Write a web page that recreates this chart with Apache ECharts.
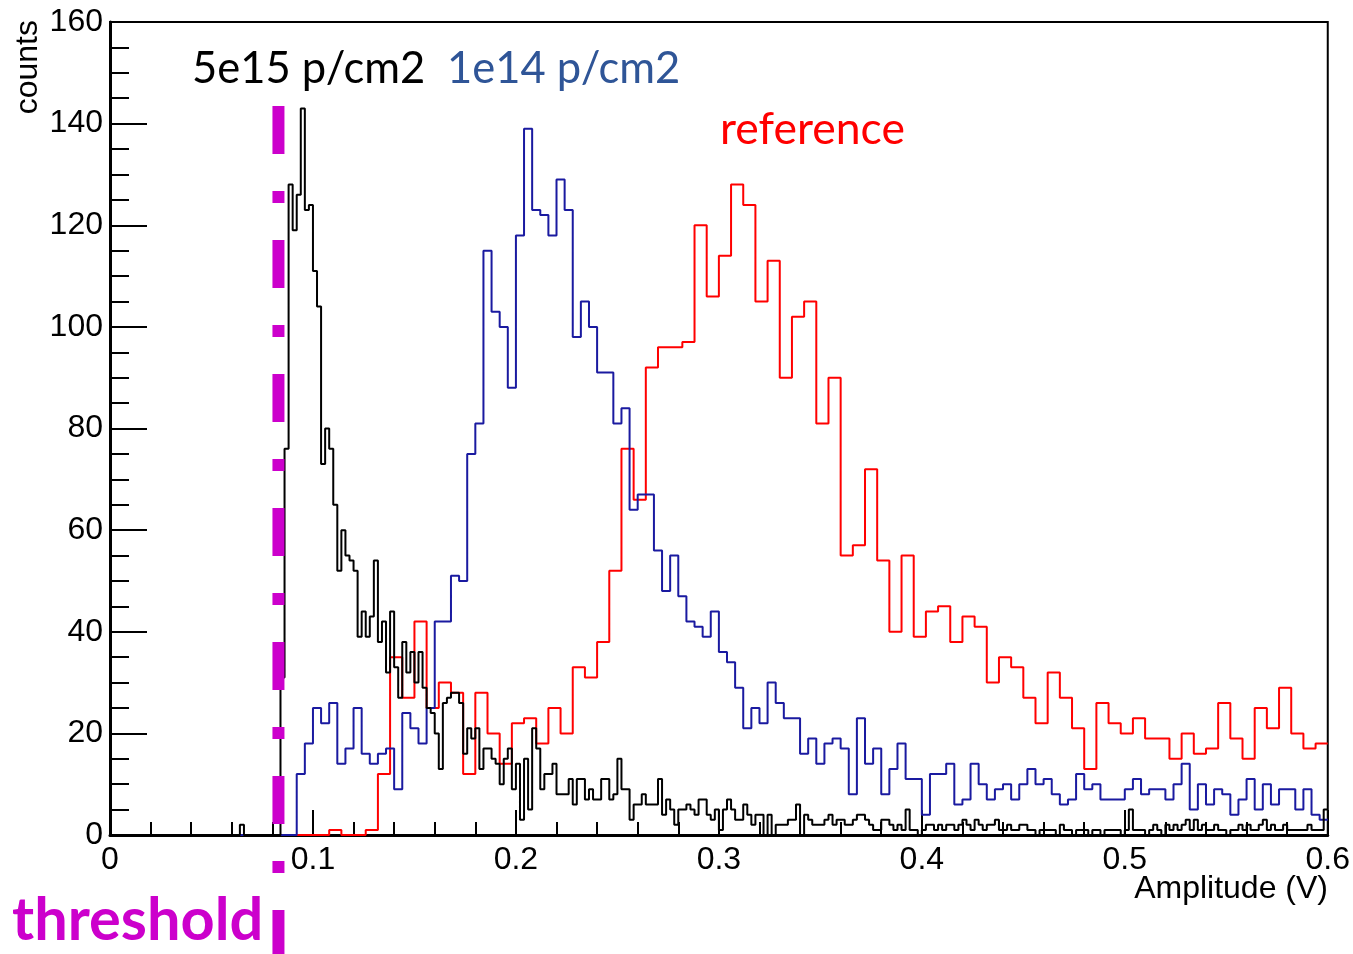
<!DOCTYPE html>
<html>
<head>
<meta charset="utf-8">
<script src="https://cdn.jsdelivr.net/npm/echarts@6/dist/echarts.min.js"></script>
<style>
  html, body { margin: 0; padding: 0; background: #ffffff; }
  #main { width: 1353px; height: 954px; }
</style>
</head>
<body>
<div id="main"></div>
<script>
// Amplitude axis range and histogram bin widths (V)
const ampMin = 0;
const ampMax = 0.6;
const binWidthReference = 0.006;   // 100 bins
const binWidth1e14 = 0.004;        // 150 bins
const binWidth5e15 = 0.002;        // 300 bins

// Discriminator threshold (V)
const thresholdV = 0.083;

// Tick labels
const xTickLabels = ['0', '0.1', '0.2', '0.3', '0.4', '0.5', '0.6'];
const yTickLabels = ['0', '20', '40', '60', '80', '100', '120', '140', '160'];

// Unirradiated reference sensor, counts per bin
const countsReference = [
  0, 0, 0, 0, 0, 0, 0, 0, 0, 0,
  0, 0, 0, 0, 0, 0, 0, 0, 1, 0,
  0, 1, 12, 35, 27, 42, 25, 30, 28, 12,
  28, 20, 14, 22, 23, 18, 25, 20, 33, 31,
  38, 52, 76, 66, 92, 96, 96, 97, 120, 106,
  114, 128, 124, 105, 113, 90, 102, 105, 81, 90,
  55, 57, 72, 54, 40, 55, 39, 44, 45, 38,
  43, 41, 30, 35, 33, 27, 22, 32, 27, 21,
  13, 26, 22, 20, 23, 19, 19, 15, 20, 16,
  17, 26, 19, 15, 25, 21, 29, 20, 17, 18
];

// Sensor irradiated to 1e14 p/cm2, counts per bin
const counts1e14 = [
  0, 0, 0, 0, 0, 0, 0, 0, 0, 0,
  0, 0, 0, 0, 0, 0, 0, 0, 0, 0,
  0, 0, 0, 12, 18, 25, 22, 26, 14, 17,
  25, 16, 14, 16, 17, 9, 24, 21, 18, 25,
  42, 42, 51, 50, 75, 81, 115, 103, 100, 88,
  118, 139, 123, 122, 118, 129, 123, 98, 105, 100,
  91, 91, 81, 84, 64, 67, 67, 56, 48, 55,
  47, 42, 41, 39, 44, 36, 34, 29, 21, 25,
  22, 30, 26, 23, 23, 16, 19, 14, 18, 19,
  17, 8, 23, 14, 17, 8, 13, 18, 11, 11,
  4, 12, 12, 14, 6, 7, 14, 10, 7, 9,
  10, 7, 10, 13, 10, 11, 8, 6, 7, 12,
  9, 10, 7, 7, 7, 9, 11, 8, 9, 9,
  7, 10, 14, 5, 10, 6, 9, 8, 4, 7,
  11, 5, 10, 6, 9, 9, 5, 9, 4, 3
];

// Sensor irradiated to 5e15 p/cm2, counts per bin
const counts5e15 = [
  0, 0, 0, 0, 0, 0, 0, 0, 0, 0,
  0, 0, 0, 0, 0, 0, 0, 0, 0, 0,
  0, 0, 0, 0, 0, 0, 0, 0, 0, 0,
  0, 0, 2, 0, 0, 0, 0, 0, 0, 0,
  0, 0, 31, 76, 128, 119, 126, 143, 123, 124,
  111, 104, 73, 80, 76, 65, 52, 60, 55, 54,
  52, 39, 44, 39, 43, 54, 38, 42, 32, 44,
  33, 27, 38, 32, 36, 30, 36, 29, 25, 24,
  20, 13, 26, 27, 28, 28, 26, 16, 21, 19,
  21, 13, 17, 17, 15, 14, 10, 15, 17, 9,
  14, 3, 15, 5, 21, 17, 9, 12, 12, 14,
  8, 8, 8, 11, 6, 11, 11, 7, 9, 7,
  7, 11, 11, 7, 8, 15, 9, 9, 3, 6,
  6, 8, 6, 6, 6, 11, 4, 7, 5, 2,
  5, 5, 6, 5, 4, 7, 7, 4, 3, 5,
  1, 5, 7, 5, 3, 3, 6, 4, 2, 4,
  4, 0, 4, 0, 2, 2, 2, 3, 3, 6,
  0, 4, 3, 2, 2, 2, 3, 4, 2, 3,
  3, 2, 2, 3, 4, 4, 3, 2, 1, 1,
  3, 3, 2, 1, 2, 1, 5, 1, 1, 0,
  1, 2, 2, 1, 2, 1, 2, 2, 1, 2,
  3, 2, 1, 3, 2, 1, 2, 2, 3, 1,
  1, 2, 1, 1, 2, 2, 1, 1, 0, 1,
  1, 1, 1, 0, 2, 1, 1, 0, 1, 1,
  1, 0, 1, 1, 0, 1, 1, 1, 1, 0,
  1, 5, 1, 1, 1, 0, 1, 2, 1, 0,
  2, 1, 2, 1, 2, 3, 1, 3, 1, 2,
  1, 1, 2, 1, 1, 0, 1, 1, 2, 1,
  2, 1, 1, 2, 3, 1, 2, 1, 1, 2,
  1, 1, 1, 1, 1, 2, 1, 1, 1, 5
];

// Step outline of a histogram: each bin contributes its left and right edge at its height,
// consecutive bins are then joined by vertical segments.
function histOutline(counts, width) {
  const pts = [];
  counts.forEach((c, i) => {
    pts.push([i * width, c]);
    pts.push([(i + 1) * width, c]);
  });
  return pts;
}

const axisFont = 'Liberation Sans, Arial, Helvetica, sans-serif';
const noteFont = 'Lato, Carlito, Calibri, sans-serif';

const chart = echarts.init(document.getElementById('main'), null, { renderer: 'canvas' });

function histSeries(name, counts, width, color) {
  return {
    name: name,
    type: 'line',
    data: histOutline(counts, width),
    showSymbol: false,
    symbol: 'none',
    lineStyle: { color: color, width: 2 },
    itemStyle: { color: color },
    emphasis: { disabled: true },
    silent: true,
    clip: true,
    animation: false
  };
}

chart.setOption({
  animation: false,
  backgroundColor: '#ffffff',
  grid: {
    left: 110, right: 25, top: 22, bottom: 119,
    show: true, borderColor: '#000000', borderWidth: 2,
    backgroundColor: 'transparent', containLabel: false
  },
  xAxis: {
    type: 'value',
    min: ampMin, max: ampMax, interval: 0.1,
    axisLine: { show: true, onZero: false, lineStyle: { color: '#000', width: 3 } },
    axisTick: { show: true, inside: true, length: 25, lineStyle: { color: '#000', width: 2 } },
    minorTick: { show: true, splitNumber: 5, length: 13, lineStyle: { color: '#000', width: 2 } },
    splitLine: { show: false },
    axisLabel: {
      color: '#000', fontFamily: axisFont, fontSize: 32, margin: 9,
      formatter: (v) => xTickLabels[Math.round(v / 0.1)]
    }
  },
  yAxis: {
    type: 'value',
    min: 0, max: 160, interval: 20,
    axisLine: { show: true, onZero: false, lineStyle: { color: '#000', width: 3 } },
    axisTick: { show: true, inside: true, length: 37, lineStyle: { color: '#000', width: 2 } },
    minorTick: { show: true, splitNumber: 4, length: 19, lineStyle: { color: '#000', width: 2 } },
    splitLine: { show: false },
    axisLabel: {
      color: '#000', fontFamily: axisFont, fontSize: 32, margin: 7,
      formatter: (v) => yTickLabels[Math.round(v / 20)]
    }
  },
  series: [
    histSeries('reference', countsReference, binWidthReference, '#ff0000'),
    histSeries('1e14 p/cm2', counts1e14, binWidth1e14, '#1a1aa0'),
    histSeries('5e15 p/cm2', counts5e15, binWidth5e15, '#000000')
  ]
});

// Annotations: threshold marker and labels
const thrX = chart.convertToPixel({ xAxisIndex: 0 }, thresholdV);

chart.setOption({
  graphic: [
    {
      type: 'line', z: 100, silent: true,
      shape: { x1: thrX, y1: 106, x2: thrX, y2: 956 },
      style: { stroke: '#cc00cc', lineWidth: 12, lineDash: [48, 37, 12, 37], lineCap: 'butt' }
    },
    {
      type: 'text', z: 100, silent: true, x: 192, y: 69,
      style: { text: '5e15 p/cm2', fill: '#000000', font: '43.5px ' + noteFont, textAlign: 'left', textVerticalAlign: 'middle' }
    },
    {
      type: 'text', z: 100, silent: true, x: 447, y: 69,
      style: { text: '1e14 p/cm2', fill: '#2f5597', font: '43.5px ' + noteFont, textAlign: 'left', textVerticalAlign: 'middle' }
    },
    {
      type: 'text', z: 100, silent: true, x: 720, y: 130,
      style: { text: 'reference', fill: '#ff0000', font: '44.5px ' + noteFont, textAlign: 'left', textVerticalAlign: 'middle' }
    },
    {
      type: 'text', z: 100, silent: true, x: 12, y: 921,
      style: { text: 'threshold', fill: '#cc00cc', font: 'bold 59.5px ' + noteFont, textAlign: 'left', textVerticalAlign: 'middle' }
    },
    {
      type: 'text', z: 100, silent: true, x: 1328, y: 889,
      style: { text: 'Amplitude (V)', fill: '#000000', font: '32px ' + axisFont, textAlign: 'right', textVerticalAlign: 'middle' }
    },
    {
      type: 'text', z: 100, silent: true, x: 28, y: 20, rotation: Math.PI / 2,
      style: { text: 'counts', fill: '#000000', font: '32px ' + axisFont, textAlign: 'right', textVerticalAlign: 'middle' }
    }
  ]
});
</script>
</body>
</html>
